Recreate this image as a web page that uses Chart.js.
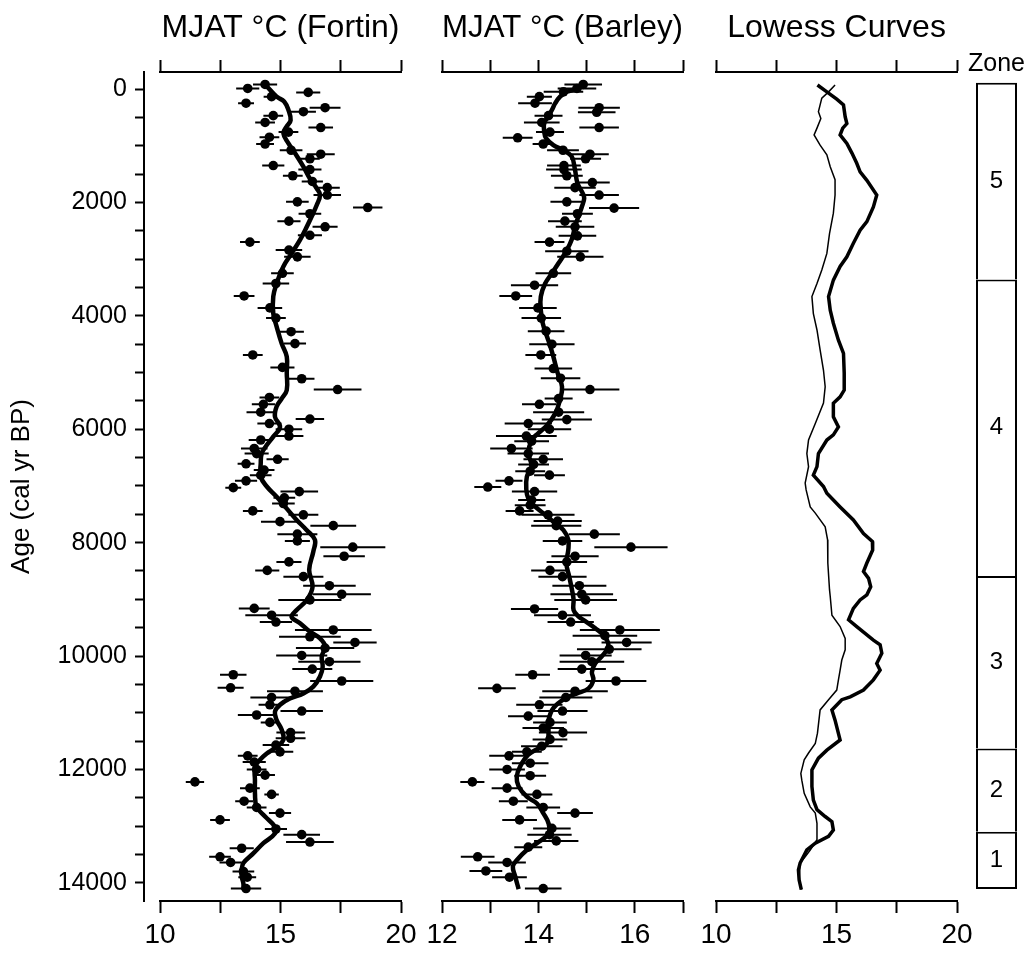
<!DOCTYPE html>
<html lang="en">
<head>
    <meta charset="UTF-8">
    <title>MJAT reconstructions</title>
    <script src="https://cdn.jsdelivr.net/npm/chart.js"></script>
    <style>
        body { margin: 0; background: #fff; }
        #wrap { position: relative; width: 1035px; height: 955px; overflow: hidden; }
        #wrap canvas { position: absolute; top: 0; }
    </style>
</head>
<body>
<div id="wrap">
    <canvas id="ageAxis" width="150" height="955" style="left:0"></canvas>
    <canvas id="fortin" width="300" height="955" style="left:130px"></canvas>
    <canvas id="barley" width="300" height="955" style="left:412px"></canvas>
    <canvas id="lowess" width="300" height="955" style="left:686px"></canvas>
    <canvas id="zones" width="77" height="955" style="left:958px"></canvas>
</div>

<script>
    // Fortin reconstruction (samples, with error)
    const fortinAge = [-80, -10, 60, 135, 250, 330, 400, 470, 590, 680, 760, 850, 970, 1080, 1150, 1230, 1350, 1420, 1530, 1630,
        1740, 1870, 1990, 2090, 2200, 2330, 2430, 2580, 2700, 2840, 2960, 3250, 3430, 3650, 3860, 4040, 4280, 4490, 4690, 4910,
        5110, 5300, 5440, 5560, 5700, 5820, 5900, 6000, 6120, 6190, 6340, 6430, 6530, 6610, 6720, 6810, 6910, 7030, 7100, 7210,
        7310, 7440, 7510, 7630, 7700, 7850, 7970, 8080, 8240, 8340, 8490, 8600, 8760, 8910, 9010, 9160, 9280, 9400, 9540, 9660,
        9760, 9860, 9990, 10100, 10230, 10330, 10440, 10560, 10620, 10730, 10860, 10970, 11040, 11170, 11350, 11450, 11570, 11690, 11760, 11870,
        12000, 12100, 12220, 12330, 12440, 12560, 12670, 12770, 12890, 13050, 13150, 13280, 13390, 13540, 13640, 13800, 13900, 14100];
    const fortinTemp = [14.36, 13.64, 16.15, 14.63, 13.57, 16.85, 15.95, 14.70, 14.36, 16.67, 15.33, 14.54, 14.36, 15.44, 16.67, 16.22, 14.70, 16.22, 15.51, 16.32,
        16.94, 16.94, 15.70, 18.62, 16.22, 15.35, 16.85, 16.22, 13.73, 15.35, 15.70, 15.08, 14.81, 13.49, 14.56, 14.81, 15.44, 15.60, 13.85, 15.08,
        15.88, 17.37, 14.54, 14.29, 14.18, 16.22, 14.54, 15.35, 15.35, 14.18, 13.91, 14.01, 14.88, 13.57, 14.32, 14.18, 13.57, 13.04, 15.78, 15.16,
        15.12, 13.85, 15.95, 14.98, 17.19, 15.70, 15.70, 18.00, 17.64, 15.35, 14.45, 15.95, 17.03, 17.54, 16.22, 13.91, 14.63, 14.81, 17.19, 16.22,
        18.09, 16.85, 15.88, 17.03, 16.32, 13.04, 17.54, 12.93, 15.60, 14.63, 14.56, 15.88, 14.01, 14.56, 15.42, 15.42, 14.81, 14.98, 13.64, 13.91,
        14.01, 14.36, 11.45, 13.73, 14.63, 13.49, 14.01, 14.98, 12.49, 14.81, 15.88, 16.22, 13.39, 12.49, 12.93, 13.46, 13.62, 13.57];
    const fortinErr = [0.50, 0.48, 0.50, 0.33, 0.33, 0.64, 0.52, 0.41, 0.41, 0.51, 0.41, 0.41, 0.37, 0.47, 0.58, 0.41, 0.46, 0.48, 0.41, 0.44,
        0.52, 0.57, 0.47, 0.61, 0.47, 0.48, 0.52, 0.50, 0.41, 0.55, 0.55, 0.47, 0.55, 0.43, 0.51, 0.41, 0.53, 0.46, 0.41, 0.50,
        0.53, 0.99, 0.41, 0.48, 0.59, 0.59, 0.50, 0.55, 0.60, 0.50, 0.55, 0.50, 0.46, 0.35, 0.43, 0.45, 0.46, 0.33, 0.78, 0.45,
        0.47, 0.41, 0.62, 0.79, 0.95, 0.83, 0.52, 1.35, 0.86, 0.52, 0.50, 0.83, 1.09, 1.21, 1.31, 0.64, 1.09, 0.67, 1.59, 1.28,
        0.90, 1.21, 1.06, 1.29, 0.83, 0.55, 1.31, 0.54, 1.16, 0.88, 0.47, 0.88, 0.78, 0.38, 0.59, 0.62, 0.55, 0.55, 0.41, 0.48,
        0.41, 0.41, 0.38, 0.41, 0.30, 0.37, 0.41, 0.46, 0.41, 0.46, 0.76, 0.99, 0.50, 0.45, 0.46, 0.45, 0.37, 0.63];

    // Fortin smoothed curve
    const fortinSmoothAge = [-80, 135, 220, 370, 550, 660, 780, 960, 1130, 1370, 1580, 1750, 1870, 2050, 2250, 2430, 2660, 2900, 3130, 3430,
        3660, 3960, 4190, 4490, 4720, 5010, 5310, 5460, 5600, 5780, 5960, 6130, 6280, 6430, 6600, 6840, 7010, 7190, 7400, 7600,
        7780, 7950, 8160, 8480, 8780, 9010, 9190, 9310, 9420, 9570, 9690, 9830, 10010, 10190, 10360, 10540, 10660, 10750, 10860, 10980,
        11130, 11300, 11480, 11600, 11720, 11830, 11950, 12190, 12420, 12660, 12830, 13010, 13130, 13300, 13480, 13650, 13770, 13890, 14010, 14120];
    const fortinSmoothTemp = [14.36, 14.84, 15.15, 15.33, 15.42, 15.26, 15.12, 15.33, 15.60, 15.95, 16.22, 16.50, 16.64, 16.50, 16.29, 16.09, 15.81, 15.46, 15.12, 14.84,
        14.70, 14.70, 14.84, 15.05, 15.26, 15.26, 15.26, 15.05, 14.84, 14.77, 14.98, 14.70, 14.43, 14.22, 14.18, 14.18, 14.43, 14.84, 15.26, 15.67,
        16.09, 16.43, 16.36, 16.19, 16.33, 16.09, 15.67, 15.46, 15.81, 16.22, 16.64, 16.85, 16.71, 16.75, 16.64, 16.36, 15.95, 15.39, 14.98, 14.77,
        14.84, 15.05, 15.12, 14.84, 14.43, 14.15, 13.94, 13.94, 13.94, 14.01, 14.36, 14.77, 14.77, 14.29, 13.87, 13.46, 13.39, 13.39, 13.46, 13.46];

    // Barley reconstruction (samples, with error)
    const barleyAge = [-80, -10, 50, 135, 250, 330, 410, 470, 590, 680, 760, 860, 970, 1080, 1150, 1230, 1350, 1420, 1530, 1650,
        1740, 1870, 1990, 2100, 2200, 2330, 2430, 2590, 2700, 2860, 2960, 3250, 3460, 3650, 3860, 4040, 4270, 4500, 4690, 4930,
        5100, 5300, 5460, 5560, 5700, 5830, 5900, 6000, 6120, 6210, 6340, 6430, 6530, 6620, 6740, 6810, 6910, 7020, 7100, 7250,
        7340, 7440, 7510, 7620, 7700, 7850, 7970, 8080, 8240, 8340, 8490, 8600, 8760, 8910, 9010, 9170, 9280, 9400, 9540, 9640,
        9760, 9880, 9990, 10100, 10230, 10330, 10440, 10570, 10620, 10730, 10860, 10970, 11060, 11170, 11270, 11350, 11470, 11590, 11690, 11760,
        11890, 12000, 12110, 12220, 12330, 12440, 12560, 12670, 12770, 12890, 13040, 13150, 13260, 13370, 13540, 13640, 13790, 13900, 14100];
    const barleyTemp = [14.93, 14.80, 14.52, 14.02, 13.93, 15.26, 15.21, 14.21, 14.07, 15.26, 14.24, 13.57, 14.10, 14.51, 15.07, 14.98, 14.53, 14.53, 14.59, 15.12,
        14.76, 15.26, 14.59, 15.57, 14.81, 14.55, 14.76, 14.81, 14.23, 14.59, 14.87, 14.31, 13.92, 13.53, 13.99, 14.06, 14.16, 14.28, 14.05, 14.31,
        14.46, 15.07, 14.42, 14.02, 14.42, 14.59, 13.79, 14.23, 13.75, 13.86, 13.44, 13.79, 14.10, 13.90, 13.83, 14.23, 13.39, 12.95, 13.92, 13.86,
        13.83, 13.61, 14.20, 14.40, 14.37, 15.16, 14.50, 15.92, 14.76, 14.59, 14.24, 14.50, 14.85, 14.90, 14.98, 13.92, 14.50, 14.67, 15.69, 15.38,
        15.83, 15.47, 14.98, 15.11, 14.90, 13.88, 15.61, 13.14, 14.76, 14.57, 14.02, 14.50, 13.79, 14.24, 14.10, 14.51, 14.24, 14.07, 13.76, 13.39,
        13.83, 13.35, 13.83, 12.63, 13.35, 13.97, 13.48, 14.10, 14.76, 13.61, 14.28, 14.23, 14.37, 13.79, 12.74, 13.35, 12.91, 13.40, 14.10];
    const barleyErr = [0.39, 0.40, 0.41, 0.26, 0.35, 0.43, 0.39, 0.29, 0.37, 0.41, 0.29, 0.31, 0.22, 0.33, 0.39, 0.32, 0.35, 0.37, 0.33, 0.36,
        0.43, 0.41, 0.34, 0.52, 0.32, 0.35, 0.40, 0.39, 0.31, 0.45, 0.48, 0.37, 0.49, 0.34, 0.39, 0.41, 0.38, 0.47, 0.32, 0.39,
        0.41, 0.61, 0.29, 0.36, 0.53, 0.52, 0.49, 0.45, 0.63, 0.36, 0.44, 0.43, 0.41, 0.32, 0.31, 0.32, 0.28, 0.28, 0.47, 0.28,
        0.32, 0.29, 0.55, 0.50, 0.52, 0.53, 0.41, 0.76, 0.49, 0.42, 0.39, 0.50, 0.56, 0.65, 0.65, 0.49, 0.59, 0.48, 0.83, 0.67,
        0.52, 0.67, 0.54, 0.67, 0.50, 0.36, 0.63, 0.39, 0.68, 0.55, 0.48, 0.52, 0.42, 0.35, 0.43, 0.50, 0.36, 0.43, 0.31, 0.41,
        0.38, 0.37, 0.33, 0.25, 0.32, 0.32, 0.30, 0.35, 0.37, 0.36, 0.39, 0.46, 0.46, 0.29, 0.35, 0.39, 0.34, 0.36, 0.38];

    // Barley smoothed curve
    const barleySmoothAge = [-100, -10, 50, 135, 250, 370, 490, 600, 750, 870, 990, 1080, 1190, 1430, 1660, 1840, 1930, 2080, 2250, 2430,
        2660, 2840, 3070, 3250, 3430, 3660, 3900, 4130, 4370, 4490, 4720, 5010, 5250, 5480, 5720, 5930, 6070, 6190, 6430, 6540,
        6660, 6840, 7070, 7220, 7340, 7480, 7630, 7780, 7950, 8130, 8360, 8600, 8890, 9010, 9190, 9300, 9360, 9510, 9660, 9830,
        10010, 10130, 10280, 10420, 10570, 10660, 10750, 10920, 11130, 11300, 11540, 11630, 11740, 11950, 12130, 12300, 12480, 12600, 12770, 12950,
        13130, 13300, 13420, 13600, 13710, 13890, 14110];
    const barleySmoothTemp = [14.93, 14.80, 14.59, 14.45, 14.35, 14.28, 14.20, 14.12, 14.12, 14.16, 14.31, 14.52, 14.69, 14.76, 14.81, 14.92, 14.95, 14.90, 14.83, 14.76,
        14.69, 14.59, 14.42, 14.28, 14.14, 14.05, 14.05, 14.09, 14.18, 14.23, 14.31, 14.40, 14.49, 14.45, 14.35, 14.18, 14.00, 13.86, 13.79, 13.83,
        13.86, 13.76, 13.75, 13.79, 13.90, 14.10, 14.31, 14.52, 14.62, 14.62, 14.58, 14.64, 14.71, 14.73, 14.73, 14.83, 14.93, 15.18, 15.38, 15.45,
        15.31, 15.18, 15.11, 15.14, 15.04, 14.80, 14.55, 14.31, 14.21, 14.21, 14.18, 14.00, 13.79, 13.62, 13.55, 13.59, 13.76, 13.97, 14.10, 14.21,
        14.21, 13.97, 13.76, 13.55, 13.47, 13.52, 13.59];

    // Lowess curves panel: thick (Fortin) and thin (Barley)
    const lowessThickAge = [-70, 50, 180, 280, 490, 610, 690, 810, 960, 1130, 1310, 1460, 1610, 1870, 2080, 2340, 2490, 2720, 2960, 3130,
        3370, 3660, 3900, 4130, 4430, 4660, 5010, 5310, 5430, 5540, 5780, 5960, 6100, 6190, 6430, 6660, 6810, 7010, 7130, 7370,
        7600, 7840, 7980, 8130, 8360, 8510, 8630, 8780, 8920, 9010, 9160, 9360, 9480, 9720, 9800, 9950, 10130, 10250, 10420, 10600,
        10720, 10770, 10950, 11130, 11480, 11660, 11800, 12010, 12300, 12540, 12710, 12830, 12920, 13070, 13180, 13300, 13420, 13650, 13770, 13950, 14120];
    const lowessThickTemp = [14.21, 14.60, 15.01, 15.29, 15.36, 15.43, 15.26, 15.15, 15.43, 15.64, 15.84, 15.98, 16.26, 16.67, 16.53, 16.26, 15.98, 15.70, 15.43, 15.15,
        14.87, 14.67, 14.74, 14.87, 15.08, 15.29, 15.32, 15.32, 15.15, 14.87, 14.87, 15.08, 14.87, 14.60, 14.25, 14.19, 14.04, 14.46, 14.60, 15.15,
        15.70, 16.12, 16.49, 16.50, 16.26, 16.12, 16.33, 16.42, 16.26, 15.98, 15.70, 15.50, 15.84, 16.53, 16.81, 16.88, 16.67, 16.81, 16.53, 16.12,
        15.57, 15.22, 14.81, 14.94, 15.15, 14.60, 14.25, 13.98, 13.98, 14.04, 14.19, 14.53, 14.81, 14.87, 14.67, 14.12, 13.77, 13.49, 13.42, 13.45, 13.54];
    const lowessThinAge = [-70, 50, 160, 280, 400, 520, 690, 810, 990, 1160, 1370, 1600, 1870, 2190, 2550, 2900, 3190, 3430, 3660, 3960,
        4250, 4600, 4960, 5250, 5540, 5900, 6190, 6430, 6660, 6950, 7070, 7370, 7480, 7720, 7950, 8360, 8830, 8950, 9280, 9480,
        9690, 9890, 10070, 10250, 10420, 10600, 10770, 10950, 11360, 11540, 11710, 11830, 12070, 12190, 12420, 12660, 12770, 12950, 13240, 13420,
        13540, 13650, 13950, 14120];
    const lowessThinTemp = [14.94, 14.67, 14.39, 14.32, 14.25, 14.35, 14.19, 14.07, 14.32, 14.60, 14.74, 14.94, 14.94, 14.87, 14.71, 14.60, 14.39, 14.19, 13.98, 14.04,
        14.19, 14.32, 14.46, 14.53, 14.46, 14.12, 13.84, 13.77, 13.84, 13.70, 13.74, 13.91, 14.12, 14.53, 14.63, 14.64, 14.71, 14.74, 14.81, 15.15,
        15.36, 15.36, 15.22, 15.15, 15.08, 15.01, 14.67, 14.32, 14.21, 14.12, 13.84, 13.66, 13.52, 13.56, 13.66, 13.91, 14.12, 14.19, 14.19, 13.91,
        13.70, 13.49, 13.45, 13.54];

    // Zones (top to bottom)
    const zoneNames = ['5', '4', '3', '2', '1'];
    const zoneEdges = [-110, 3360, 8590, 11630, 13100, 14110];

    // Age axis: tick marks every 500 yr, labels every 2000 yr
    const ageTickStep = 500;
    const ageTickLast = 14000;
    const ageLabels = [0, 2000, 4000, 6000, 8000, 10000, 12000, 14000];

    const FONT = "'Liberation Sans', Arial, sans-serif";
    const AGE_MIN = -300;
    const AGE_MAX = 14320;
    const TOP_H = 72;
    const BOTTOM_H = 54;

    const noPlugins = { legend: { display: false }, tooltip: { enabled: false } };

    function pairsXY(xs, ys) {
        return xs.map((x, i) => ({ x: x, y: ys[i] }));
    }

    // horizontal error bars: one segment per sample, broken by a null point
    function errorSegments(age, temp, err) {
        const pts = [];
        age.forEach((a, i) => {
            pts.push({ x: temp[i] - err[i], y: a }, { x: temp[i] + err[i], y: a }, { x: temp[i], y: null });
        });
        return pts;
    }

    function tempScales(min, max, step, labelEvery, title) {
        const grid = { drawOnChartArea: false, tickLength: 12, tickWidth: 2, tickColor: '#000' };
        const border = { color: '#000', width: 2 };
        return {
            x: {
                type: 'linear', position: 'bottom', min: min, max: max, grid: grid, border: border,
                ticks: {
                    stepSize: step, autoSkip: false, maxRotation: 0, color: '#000', padding: 5,
                    font: { family: FONT, size: 28 },
                    callback: v => (Math.abs(v / labelEvery - Math.round(v / labelEvery)) < 1e-6 ? String(v) : '')
                },
                afterFit: s => { s.height = BOTTOM_H; }
            },
            xTop: {
                type: 'linear', position: 'top', min: min, max: max, grid: grid, border: border,
                ticks: { stepSize: step, autoSkip: false, callback: () => '' },
                title: { display: true, text: title, color: '#000', font: { family: FONT, size: 32 }, padding: { top: 9, bottom: 0 } },
                afterFit: s => { s.height = TOP_H; }
            },
            y: { type: 'linear', display: false, reverse: true, min: AGE_MIN, max: AGE_MAX }
        };
    }

    function panelOptions(scales) {
        return {
            responsive: false,
            animation: false,
            layout: { padding: { left: 30, right: 29 } },
            plugins: noPlugins,
            scales: scales
        };
    }

    // Age axis
    new Chart(document.getElementById('ageAxis'), {
        type: 'scatter',
        data: { datasets: [] },
        options: {
            responsive: false,
            animation: false,
            layout: { padding: { top: TOP_H, bottom: BOTTOM_H, left: 0, right: 0 } },
            plugins: noPlugins,
            scales: {
                x: { display: false, min: 0, max: 1 },
                y: {
                    type: 'linear', position: 'left', reverse: true, min: AGE_MIN, max: AGE_MAX,
                    border: { color: '#000', width: 2 },
                    grid: { drawOnChartArea: false, tickLength: 9, tickWidth: 2, tickColor: '#000' },
                    ticks: {
                        autoSkip: false, color: '#000', padding: 8,
                        font: { family: FONT, size: 25 },
                        callback: v => (ageLabels.includes(v) ? String(v) : '')
                    },
                    afterBuildTicks: s => {
                        const t = [];
                        for (let v = 0; v <= ageTickLast; v += ageTickStep) t.push({ value: v });
                        s.ticks = t;
                    },
                    title: { display: true, text: 'Age (cal yr BP)', color: '#000', font: { family: FONT, size: 26 }, padding: { top: 6 } },
                    afterFit: s => { s.width = 144; }
                }
            }
        }
    });

    new Chart(document.getElementById('fortin'), {
        type: 'scatter',
        data: {
            datasets: [
                { data: pairsXY(fortinSmoothTemp, fortinSmoothAge), showLine: true, borderColor: '#000', borderWidth: 4.5, tension: 0.4, pointRadius: 0 },
                { data: pairsXY(fortinTemp, fortinAge), pointRadius: 4.8, pointBackgroundColor: '#000', pointBorderWidth: 0 },
                { data: errorSegments(fortinAge, fortinTemp, fortinErr), showLine: true, spanGaps: false, borderColor: '#000', borderWidth: 2, pointRadius: 0 }
            ]
        },
        options: panelOptions(tempScales(10, 20, 2.5, 5, 'MJAT °C (Fortin)'))
    });

    new Chart(document.getElementById('barley'), {
        type: 'scatter',
        data: {
            datasets: [
                { data: pairsXY(barleySmoothTemp, barleySmoothAge), showLine: true, borderColor: '#000', borderWidth: 4.5, tension: 0.4, pointRadius: 0 },
                { data: pairsXY(barleyTemp, barleyAge), pointRadius: 4.8, pointBackgroundColor: '#000', pointBorderWidth: 0 },
                { data: errorSegments(barleyAge, barleyTemp, barleyErr), showLine: true, spanGaps: false, borderColor: '#000', borderWidth: 2, pointRadius: 0 }
            ]
        },
        options: panelOptions(tempScales(12, 17, 1, 2, 'MJAT °C (Barley)'))
    });

    new Chart(document.getElementById('lowess'), {
        type: 'scatter',
        data: {
            datasets: [
                { data: pairsXY(lowessThickTemp, lowessThickAge), showLine: true, borderColor: '#000', borderWidth: 3.5, tension: 0, pointRadius: 0 },
                { data: pairsXY(lowessThinTemp, lowessThinAge), showLine: true, borderColor: '#000', borderWidth: 1.5, tension: 0, pointRadius: 0 }
            ]
        },
        options: panelOptions(tempScales(10, 20, 2.5, 5, 'Lowess Curves'))
    });

    // Zone column: floating bars, labels written at bar centres
    const zoneLabels = {
        id: 'zoneLabels',
        afterDatasetsDraw(chart) {
            const ctx = chart.ctx;
            ctx.save();
            ctx.font = '24px ' + FONT;
            ctx.fillStyle = '#000';
            ctx.textAlign = 'center';
            ctx.textBaseline = 'middle';
            chart.data.datasets.forEach((ds, i) => {
                const bar = chart.getDatasetMeta(i).data[0];
                ctx.fillText(ds.label, bar.x, (bar.y + bar.base) / 2);
            });
            ctx.restore();
        }
    };

    const last = zoneNames.length - 1;
    new Chart(document.getElementById('zones'), {
        type: 'bar',
        data: {
            labels: [''],
            datasets: zoneNames.map((z, i) => ({
                label: z,
                data: [[zoneEdges[i], zoneEdges[i + 1]]],
                backgroundColor: '#fff',
                borderColor: '#000',
                borderSkipped: false,
                borderWidth: { left: 2, right: 2, top: 2, bottom: i === last ? 2 : 0 },
                grouped: false,
                categoryPercentage: 1,
                barPercentage: 41 / 77
            }))
        },
        options: {
            responsive: false,
            animation: false,
            layout: { padding: { bottom: BOTTOM_H } },
            plugins: noPlugins,
            scales: {
                x: {
                    type: 'category', position: 'top',
                    grid: { display: false }, border: { display: false }, ticks: { display: false },
                    title: { display: true, text: 'Zone', color: '#000', font: { family: FONT, size: 25 }, padding: { top: 49, bottom: 0 } },
                    afterFit: s => { s.height = TOP_H; }
                },
                y: { type: 'linear', display: false, reverse: true, min: AGE_MIN, max: AGE_MAX }
            }
        },
        plugins: [zoneLabels]
    });
</script>
</body>
</html>
